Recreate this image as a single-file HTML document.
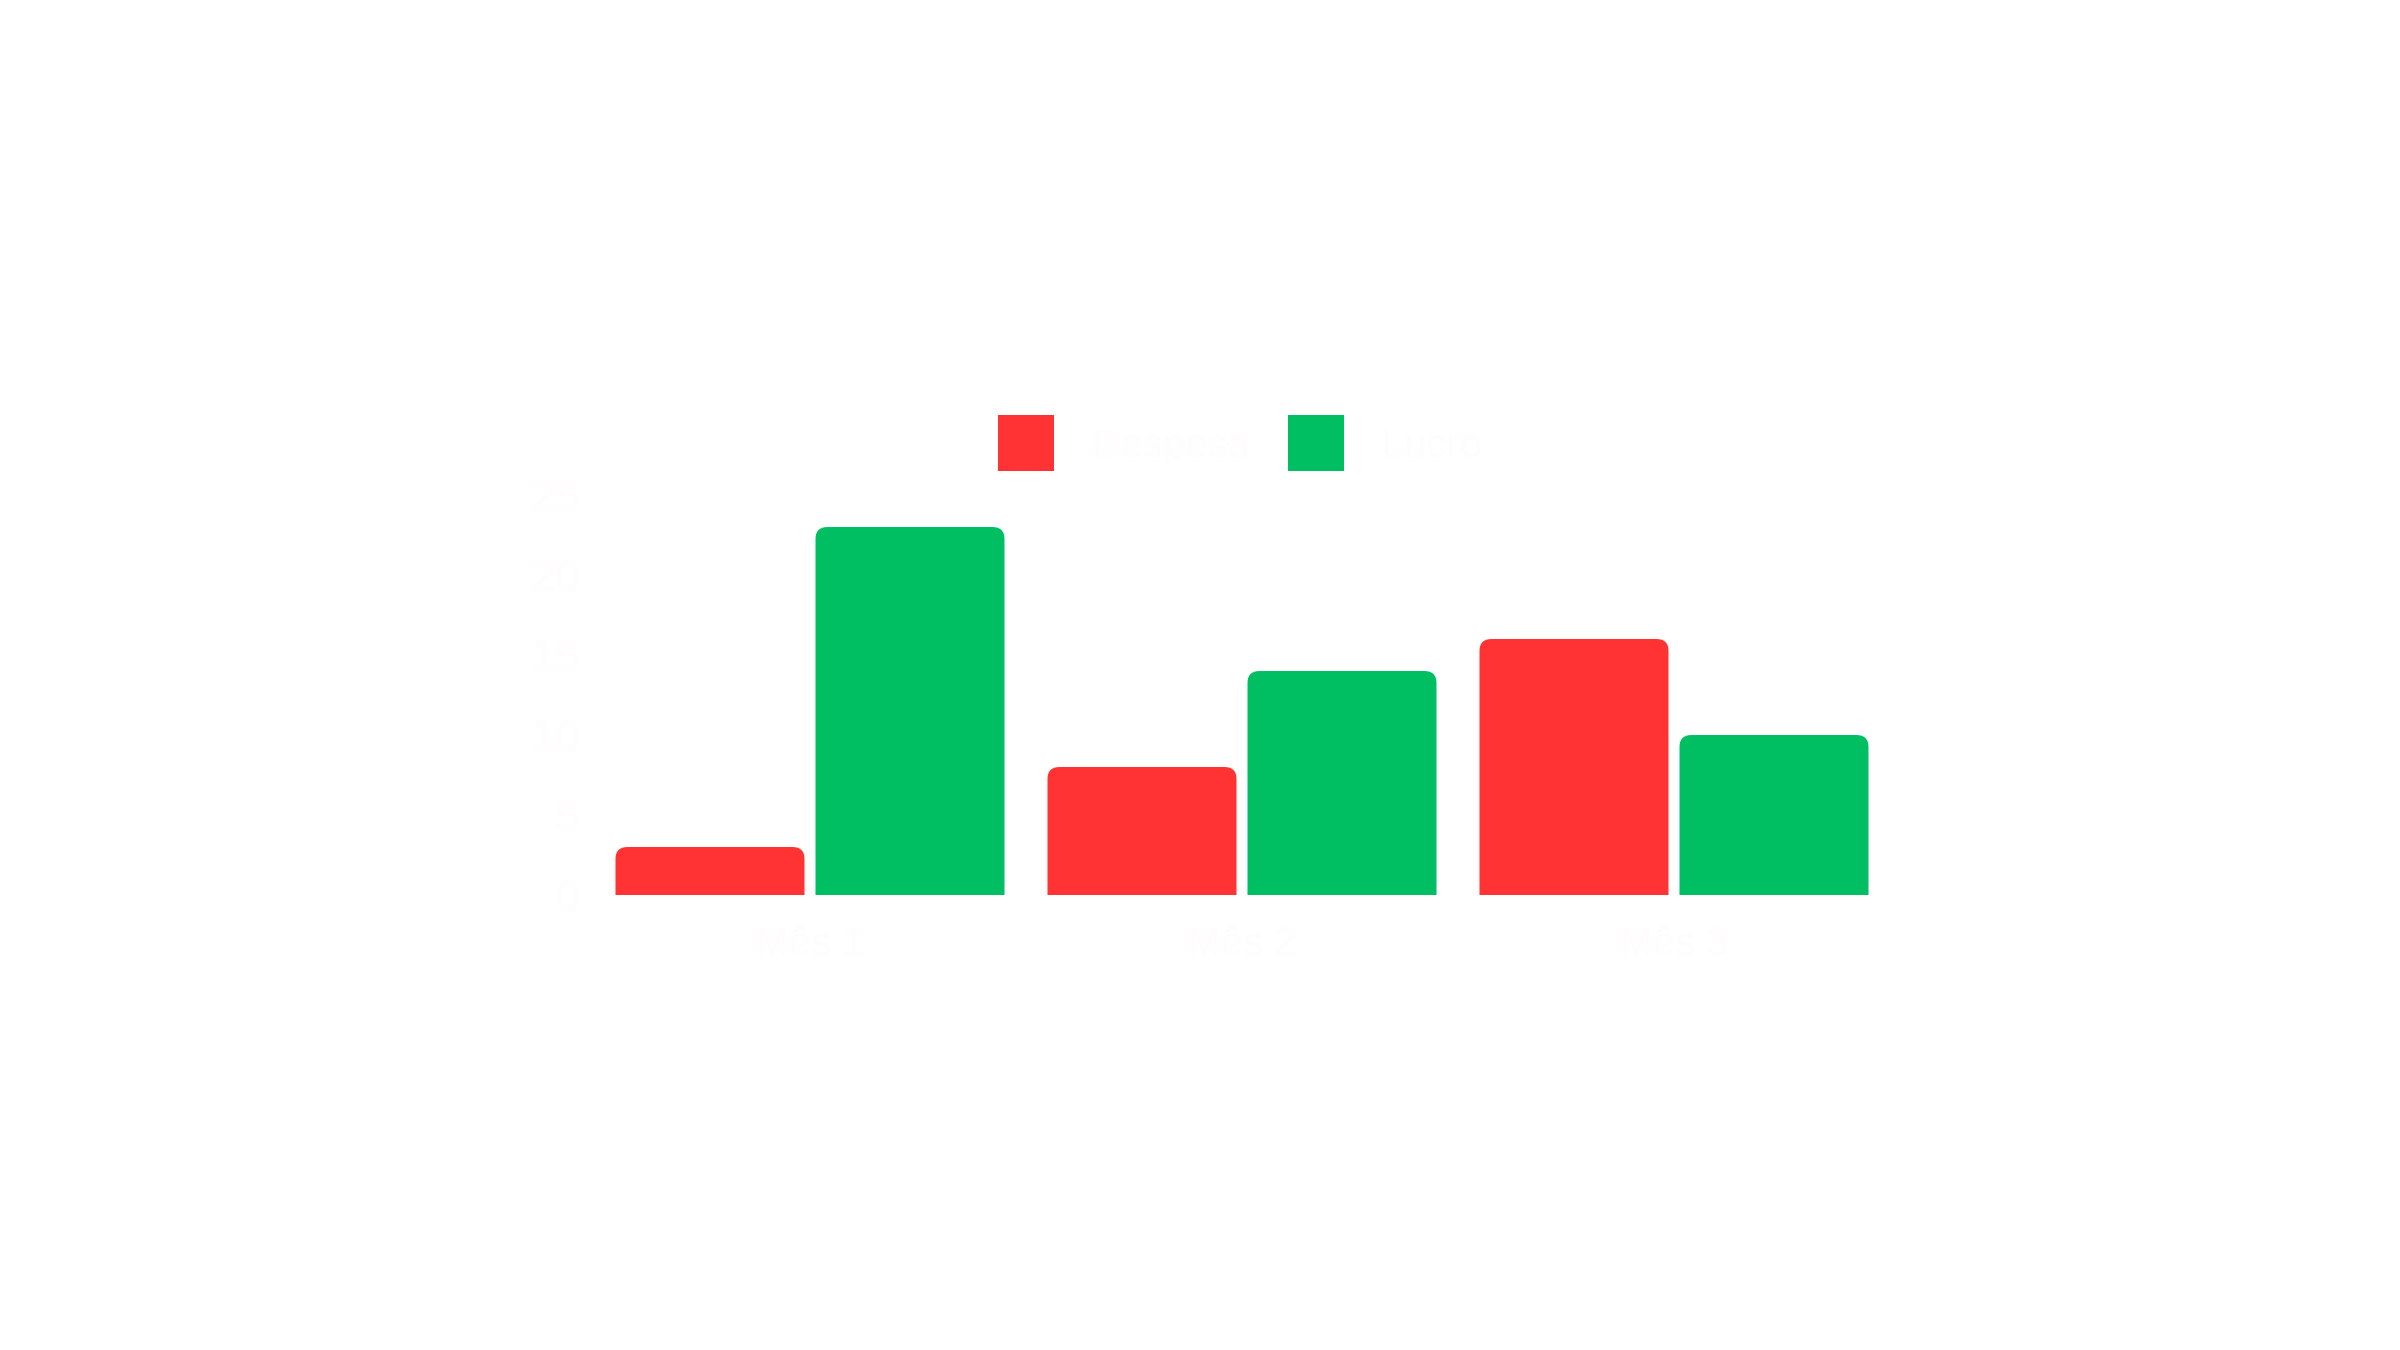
<!DOCTYPE html>
<html><head><meta charset="utf-8">
<style>
html,body{margin:0;padding:0;background:#fff;}
svg{display:block;}
text{font-family:"Liberation Sans",sans-serif;fill:#fefcfc;}
</style></head>
<body>
<svg id="chart" width="2400" height="1350" viewBox="0 0 2400 1350" xmlns="http://www.w3.org/2000/svg">
<g id="legend">
  <rect x="998" y="415" width="56" height="56" fill="#ff3333"/>
  <text x="1092" y="457" font-size="40">Despesa</text>
  <rect x="1288" y="415" width="56" height="56" fill="#00bf63"/>
  <text x="1382" y="457" font-size="40">Lucro</text>
</g>
<g id="yaxis"></g>
<g id="bars"></g>
<g id="xaxis"></g>
</svg>
<script>
const categories = ["Mês 1", "Mês 2", "Mês 3"];
const despesa = [3, 8, 16];
const lucro = [23, 14, 10];
const yTicks = [0, 5, 10, 15, 20, 25];

const NS = "http://www.w3.org/2000/svg";
const zeroY = 895, pxPerUnit = 16;
const firstCenter = 810, spacing = 432, barW = 189, gap = 11, r = 12;
function y(v){ return zeroY - v * pxPerUnit; }
function xc(i){ return firstCenter + i * spacing; }

const yG = document.getElementById('yaxis');
yTicks.forEach(t => {
  const tx = document.createElementNS(NS, 'text');
  
  
  tx.setAttribute('x', 580);
  tx.setAttribute('y', y(t) + 16);
  tx.setAttribute('font-size', '44');
  tx.setAttribute('text-anchor', 'end');
  tx.textContent = t;
  yG.appendChild(tx);
});

function barPath(x, top, w, bottom){
  const h = bottom - top, rr = Math.min(r, h/2, w/2);
  return `M${x},${bottom} L${x},${top+rr} Q${x},${top} ${x+rr},${top} L${x+w-rr},${top} Q${x+w},${top} ${x+w},${top+rr} L${x+w},${bottom} Z`;
}
const bG = document.getElementById('bars');
const xG = document.getElementById('xaxis');
categories.forEach((c, i) => {
  const cx = xc(i);
  const p1 = document.createElementNS(NS, 'path');
  
  
  p1.setAttribute('d', barPath(cx - gap/2 - barW, y(despesa[i]), barW, zeroY));
  p1.setAttribute('fill', '#ff3333');
  bG.appendChild(p1);
  const p2 = document.createElementNS(NS, 'path');
  
  
  p2.setAttribute('d', barPath(cx + gap/2, y(lucro[i]), barW, zeroY));
  p2.setAttribute('fill', '#00bf63');
  bG.appendChild(p2);
  const tx = document.createElementNS(NS, 'text');
  
  
  tx.setAttribute('x', cx);
  tx.setAttribute('y', 955);
  tx.setAttribute('font-size', '40');
  tx.setAttribute('text-anchor', 'middle');
  tx.textContent = c;
  xG.appendChild(tx);
});
</script>
</body></html>
